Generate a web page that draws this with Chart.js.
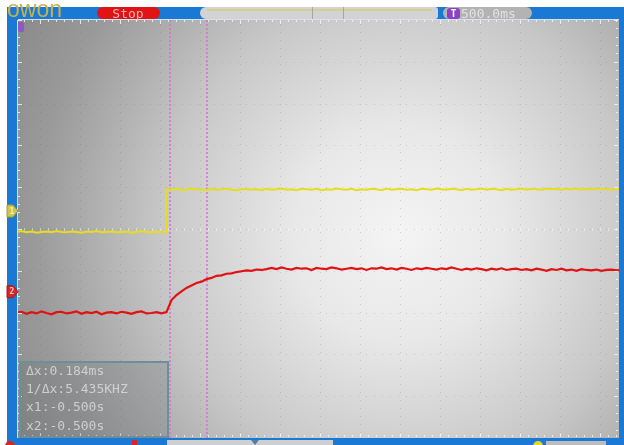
<!DOCTYPE html>
<html>
<head>
<meta charset="utf-8">
<script src="https://cdn.jsdelivr.net/npm/chart.js@4.4.1/dist/chart.umd.min.js"></script>
<style>
  html, body { margin: 0; padding: 0; background: #fff; }
  #scope { display: block; }
</style>
</head>
<body>
<canvas id="scope" width="624" height="445"></canvas>
<script>
// Capture d'oscilloscope : CH1 (jaune) = échelon, CH2 (rouge) = réponse RC
// temps en ms, tensions en divisions verticales

const SAMPLE_START = -1.5175;   // ms, premier échantillon affiché
const SAMPLE_STEP = 0.025;      // ms entre deux échantillons

const ch1Volts = [
    -0.07,-0.05,-0.08,-0.06,-0.09,-0.07,-0.06,-0.08,-0.05,-0.07,
    -0.08,-0.06,-0.07,-0.09,-0.06,-0.07,-0.05,-0.08,-0.07,-0.06,
    -0.08,-0.07,-0.06,-0.09,-0.07,-0.05,-0.07,-0.08,-0.06,-0.07,
    0.95,0.94,0.96,0.93,0.95,0.97,0.94,0.95,0.93,0.96,
    0.94,0.95,0.97,0.94,0.93,0.95,0.96,0.94,0.95,0.93,
    0.96,0.94,0.95,0.97,0.94,0.95,0.93,0.96,0.95,0.94,
    0.96,0.93,0.95,0.94,0.97,0.95,0.94,0.96,0.93,0.95,
    0.94,0.96,0.95,0.93,0.97,0.94,0.95,0.96,0.94,0.95,
    0.93,0.96,0.95,0.94,0.97,0.95,0.94,0.96,0.95,0.93,
    0.96,0.94,0.95,0.97,0.94,0.96,0.95,0.93,0.96,0.94,
    0.95,0.97,0.94,0.96,0.95,0.94,0.97,0.95,0.96,0.94,
    0.96,0.95,0.97,0.94,0.96,0.95,0.97,0.96,0.95,0.94,
    0.96,0.95
];

const ch2Volts = [
    -2.00,-1.98,-2.03,-1.99,-2.02,-1.97,-2.01,-2.04,-1.99,-1.98,
    -2.02,-2.00,-1.97,-2.03,-1.99,-2.01,-1.98,-2.04,-2.00,-1.99,
    -2.02,-1.98,-2.00,-2.03,-1.99,-1.97,-2.02,-2.01,-1.99,-2.02,
    -1.99,-1.70,-1.58,-1.49,-1.41,-1.35,-1.29,-1.26,-1.20,-1.17,
    -1.12,-1.11,-1.07,-1.06,-1.03,-1.01,-0.99,-1.00,-0.97,-0.98,
    -0.96,-0.93,-0.96,-0.92,-0.95,-0.97,-0.93,-0.95,-0.94,-0.98,
    -0.93,-0.95,-0.96,-0.92,-0.94,-0.97,-0.95,-0.93,-0.96,-0.94,
    -0.98,-0.94,-0.95,-0.92,-0.96,-0.94,-0.97,-0.93,-0.95,-0.98,
    -0.94,-0.96,-0.93,-0.95,-0.97,-0.94,-0.96,-0.92,-0.95,-0.98,
    -0.95,-0.97,-0.94,-0.96,-0.99,-0.95,-0.97,-0.94,-0.98,-0.96,
    -0.95,-0.98,-0.96,-0.99,-0.95,-0.97,-1.00,-0.96,-0.98,-0.95,
    -0.99,-0.97,-1.00,-0.96,-0.98,-0.99,-0.97,-1.00,-0.98,-0.97,
    -0.99,-0.98
];

// front montant du CH1 (point ajouté juste avant le front)
const ch1Edge = { time: -0.769, level: -0.07 };

const cursorTimes = [-0.75, -0.565];
const channelMarks = [0.43, -1.5];           // repères CH1 / CH2 à gauche
const timeRange = [-1.51, 1.495];
const voltRange = [-5, 5];
const readout = ['Δx:0.184ms', '1/Δx:5.435KHZ', 'x1:-0.500s', 'x2:-0.500s'];
const timebaseLabel = '500.0ms';
const runLabel = 'Stop';

const SCREEN_BLUE = '#1a79d5';
const MONO = '"DejaVu Sans Mono", monospace';

function buildTrace(values) {
    return values.map((v, i) => ({ x: SAMPLE_START + i * SAMPLE_STEP, y: v }));
}

const ch1Points = buildTrace(ch1Volts);
const edgeIdx = ch1Points.findIndex(p => p.x > ch1Edge.time);
ch1Points.splice(edgeIdx, 0, { x: ch1Edge.time, y: ch1Edge.level });

const cursorSets = cursorTimes.map(t => ({
    data: [{ x: t, y: voltRange[0] }, { x: t, y: voltRange[1] }],
    borderColor: '#dc6adc',
    borderWidth: 1.5,
    borderDash: [2, 2],
    pointRadius: 0,
    clip: 0
}));

// fond d'écran, grille pointillée, axes centraux
const scopeScreen = {
    id: 'scopeScreen',
    beforeDraw(chart) {
        const { ctx, chartArea: a, scales: { x, y } } = chart;
        ctx.save();
        ctx.fillStyle = '#ffffff';
        ctx.fillRect(0, 0, chart.width, chart.height);
        ctx.fillStyle = SCREEN_BLUE;
        ctx.fillRect(7, 7, chart.width - 7, chart.height - 7);

        const g = ctx.createRadialGradient(400, 235, 0, 400, 235, 430);
        g.addColorStop(0, '#f4f4f4');
        g.addColorStop(0.25, '#e8e8e8');
        g.addColorStop(0.55, '#c8c8c8');
        g.addColorStop(0.85, '#9a9a9a');
        g.addColorStop(1, '#8c8c8c');
        ctx.fillStyle = g;
        ctx.fillRect(a.left, a.top, a.right - a.left, a.bottom - a.top);

        // grille
        ctx.fillStyle = 'rgba(90,90,90,0.22)';
        const first = Math.ceil(x.min / 0.2);
        const last = Math.floor(x.max / 0.2);
        for (let k = first; k <= last; k++) {
            const px = Math.round(x.getPixelForValue(k * 0.2));
            for (let py = a.top + 4; py < a.bottom; py += 8) ctx.fillRect(px, py, 1, 1);
        }
        for (let v = voltRange[0] + 1; v < voltRange[1]; v++) {
            const py = Math.round(y.getPixelForValue(v));
            for (let px = a.left + 4; px < a.right; px += 8) ctx.fillRect(px, py, 1, 1);
        }

        // axe horizontal central avec graduations
        ctx.fillStyle = 'rgba(255,255,255,0.45)';
        const y0 = Math.round(y.getPixelForValue(0));
        for (let k = Math.ceil(x.min / 0.04); k <= x.max / 0.04; k++) {
            const px = Math.round(x.getPixelForValue(k * 0.04));
            ctx.fillRect(px, y0 - 1, 1, 3);
        }
        ctx.restore();
    },

    afterDatasetsDraw(chart) {
        const { ctx, chartArea: a, scales: { x, y } } = chart;
        ctx.save();

        // règles sur les bords
        ctx.fillStyle = 'rgba(245,245,245,0.85)';
        ctx.fillRect(a.left, a.top - 1, a.right - a.left, 1);
        ctx.fillRect(a.left - 1, a.top, 1, a.bottom - a.top);
        for (let k = Math.ceil(x.min / 0.04); k <= x.max / 0.04; k++) {
            const px = Math.round(x.getPixelForValue(k * 0.04));
            const len = k % 5 === 0 ? 4 : 2;
            ctx.fillRect(px, a.top, 1, len);
            ctx.fillRect(px, a.bottom - len - 1, 1, len);
        }
        for (let k = voltRange[0] * 5; k <= voltRange[1] * 5; k++) {
            const py = Math.round(y.getPixelForValue(k * 0.2));
            const len = k % 5 === 0 ? 4 : 2;
            ctx.fillRect(a.left, py, len, 1);
            ctx.fillRect(a.right - len - 1, py, len, 1);
        }

        // repères de voies à gauche
        const markStyles = [
            { fill: '#cdc74c', stroke: '#a49d2c', text: '1' },
            { fill: '#d42828', stroke: '#a81818', text: '2' }
        ];
        channelMarks.forEach((v, i) => {
            const py = y.getPixelForValue(v);
            const s = markStyles[i];
            ctx.beginPath();
            ctx.moveTo(7, py - 6);
            ctx.lineTo(13, py - 6);
            ctx.lineTo(18, py);
            ctx.lineTo(13, py + 6);
            ctx.lineTo(7, py + 6);
            ctx.closePath();
            ctx.fillStyle = s.fill;
            ctx.fill();
            ctx.strokeStyle = s.stroke;
            ctx.lineWidth = 1;
            ctx.stroke();
            ctx.fillStyle = 'rgba(255,255,255,0.7)';
            ctx.font = 'bold 8px ' + MONO;
            ctx.textAlign = 'center';
            ctx.textBaseline = 'middle';
            ctx.fillText(s.text, 12, py + 0.5);
        });
        // repère de déclenchement en haut à gauche
        ctx.fillStyle = '#9455c8';
        ctx.beginPath();
        ctx.roundRect(a.left, a.top + 2, 6, 10, 2);
        ctx.fill();

        // barre du haut
        ctx.fillStyle = '#ffffff';
        ctx.fillRect(0, 0, chart.width, 7);
        ctx.fillStyle = SCREEN_BLUE;
        ctx.fillRect(7, 7, chart.width - 7, 12);

        ctx.fillStyle = '#c5b24c';
        ctx.font = '23px "Liberation Sans", sans-serif';
        ctx.textAlign = 'left';
        ctx.textBaseline = 'alphabetic';
        ctx.fillText('owon', 7, 17);

        ctx.fillStyle = '#e01414';
        ctx.beginPath();
        ctx.roundRect(97, 7, 63, 12, 6);
        ctx.fill();
        ctx.fillStyle = '#f2b4b4';
        ctx.font = '13px ' + MONO;
        ctx.textAlign = 'center';
        ctx.fillText(runLabel, 128, 18);

        ctx.fillStyle = '#d3d3d3';
        ctx.beginPath();
        ctx.roundRect(200, 7, 238, 12, [6, 3, 3, 6]);
        ctx.fill();
        ctx.fillStyle = '#d3cf90';
        ctx.fillRect(207, 9, 225, 2);
        ctx.fillStyle = '#a6a6a6';
        ctx.fillRect(312, 7, 1, 12);
        ctx.fillRect(343, 7, 1, 12);

        ctx.fillStyle = '#b3b3b3';
        ctx.beginPath();
        ctx.roundRect(443, 7, 89, 12, 6);
        ctx.fill();
        ctx.fillStyle = '#8e3fc4';
        ctx.beginPath();
        ctx.roundRect(447, 8, 13, 11, 3);
        ctx.fill();
        ctx.fillStyle = '#ffffff';
        ctx.font = 'bold 10px ' + MONO;
        ctx.fillText('T', 453.5, 17);
        ctx.fillStyle = '#e2e2e2';
        ctx.font = '13px ' + MONO;
        ctx.textAlign = 'left';
        ctx.fillText(timebaseLabel, 461, 18);

        // barre du bas (en grande partie hors champ)
        ctx.fillStyle = SCREEN_BLUE;
        ctx.fillRect(7, a.bottom, chart.width - 7, chart.height - a.bottom);
        ctx.fillStyle = '#d42828';
        ctx.beginPath();
        ctx.arc(10, 446, 5, 0, Math.PI * 2);
        ctx.fill();
        ctx.fillRect(132, 440, 5, 5);
        ctx.fillStyle = '#cfcfcf';
        ctx.fillRect(167, 440, 166, 5);
        ctx.fillStyle = '#4f7fae';
        ctx.beginPath();
        ctx.moveTo(251, 440);
        ctx.lineTo(259, 440);
        ctx.lineTo(255, 445);
        ctx.fill();
        ctx.fillStyle = '#e2d630';
        ctx.beginPath();
        ctx.arc(538, 446, 5, 0, Math.PI * 2);
        ctx.fill();
        ctx.fillStyle = '#bdbdbd';
        ctx.fillRect(546, 441, 60, 4);

        // boîte des curseurs
        const bx = 20, by = 362, bw = 148, bh = 75;
        ctx.fillStyle = 'rgba(85,92,98,0.2)';
        ctx.fillRect(bx, by, bw, bh);
        ctx.strokeStyle = '#6d8e9c';
        ctx.lineWidth = 2;
        ctx.strokeRect(bx, by, bw, bh);
        ctx.fillStyle = 'rgba(222,222,222,0.8)';
        ctx.font = '13px ' + MONO;
        ctx.textAlign = 'left';
        ctx.textBaseline = 'middle';
        const rows = [372, 390, 408, 427];
        readout.forEach((s, i) => ctx.fillText(s, 26, rows[i]));

        ctx.restore();
    }
};

const ctx = document.getElementById('scope').getContext('2d');
window.scopeChart = new Chart(ctx, {
    type: 'line',
    data: {
        datasets: [
            {
                label: 'CH1',
                data: ch1Points,
                borderColor: '#e6de1a',
                borderWidth: 2,
                pointRadius: 0,
                tension: 0,
                clip: 0
            },
            {
                label: 'CH2',
                data: buildTrace(ch2Volts),
                borderColor: '#e01212',
                borderWidth: 2.2,
                pointRadius: 0,
                tension: 0,
                clip: 0
            },
            ...cursorSets
        ]
    },
    options: {
        responsive: false,
        devicePixelRatio: 1,
        animation: false,
        layout: { padding: { left: 18, right: 5, top: 20, bottom: 7 } },
        scales: {
            x: { type: 'linear', display: false, min: timeRange[0], max: timeRange[1] },
            y: { type: 'linear', display: false, min: voltRange[0], max: voltRange[1] }
        },
        plugins: {
            legend: { display: false },
            tooltip: { enabled: false }
        }
    },
    plugins: [scopeScreen]
});
</script>
</body>
</html>
